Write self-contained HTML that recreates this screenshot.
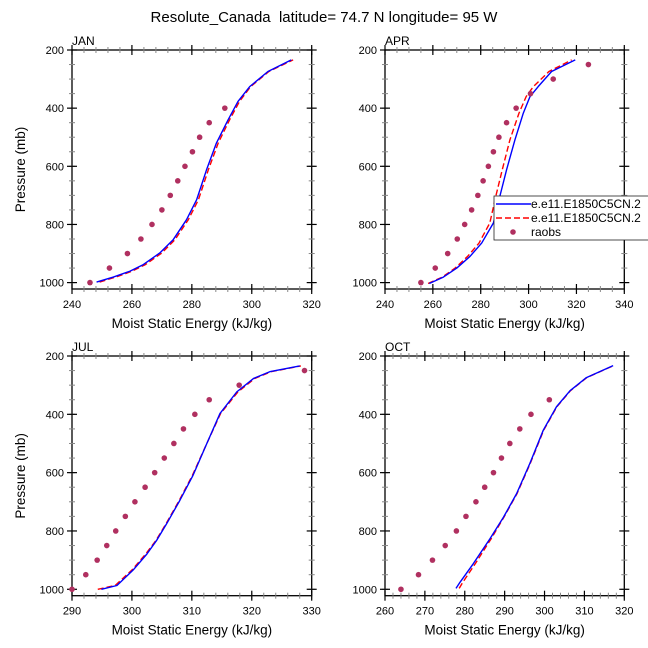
<!DOCTYPE html>
<html><head><meta charset="utf-8"><style>
body{margin:0;background:#fff}
svg{display:block;font-family:"Liberation Sans",Arial,sans-serif}
</style></head><body>
<svg id="c" width="648" height="648" viewBox="0 0 648 648">
<text x="324" y="22" text-anchor="middle" font-size="15">Resolute_Canada&#160; latitude= 74.7 N longitude= 95 W</text>
</svg>
<script>
// JAN
const janModelP=[998,981,961,938,898,852,784,715,612,520,440,377,326,274,234];
const janBlue=[248.2,253.8,259.3,263.8,269.3,273.8,278.2,281.6,284.9,288.2,292.1,295.4,299.3,305.4,313.2];
const janRed=[249.2,254.6,260.0,264.5,270.0,274.4,278.8,282.2,285.5,288.8,292.6,295.9,299.6,305.7,313.8];
const obsP=[1000,950,900,850,800,750,700,650,600,550,500,450,400,350,300,250];
const janObs=[246,252.5,258.5,263,266.7,270,272.8,275.3,277.7,280.2,282.6,285.8,291];
// APR
const aprModelP=[1003,981,950,910,864,795,703,612,509,417,360,326,274,234];
const aprBlue=[258.5,264.4,270,275.5,280.4,285.3,288,290.8,294.3,297.8,300.6,304,309.6,319.5];
const aprRed=[258,264,269.3,274.5,279.3,283.8,286.3,289,292.2,296,299,302,308.5,318];
const aprObs=[255,261,266.2,270.2,273.3,276.2,278.8,281,283.2,285.3,287.6,290.8,294.8,300.8,310.3,325];
// JUL
const julModelP=[1000,987,934,879,833,775,695,609,500,397,323,277,254,234];
const julBlue=[294.9,297.5,300.2,302.5,304.1,305.8,308,310.2,312.5,314.7,317.5,320.3,323,328];
const julRed=[294.3,297.2,300,302.3,304,305.7,307.9,310.1,312.5,314.8,317.7,320.5,323.2,328.2];
const julObs=[290,292.3,294.2,295.8,297.3,298.9,300.5,302.2,303.8,305.4,307,308.6,310.5,312.9,317.9,328.8];
// OCT
const octModelP=[997,976,913,827,753,672,569,454,374,319,274,233];
const octBlue=[277.8,278.8,282.1,286.3,289.7,293,296.3,299.7,303,306.4,310.5,317.2];
const octRed=[278.6,279.5,282.6,286.6,289.8,293.1,296.4,299.8,303.1,306.5,310.6,317.3];
const octObs=[264,268.4,271.9,275.1,277.9,280.3,282.8,285,287.2,289.2,291.3,293.8,296.6,301.2];
// axis ticks
const janTicks=[240,260,280,300,320];
const aprTicks=[240,260,280,300,320,340];
const julTicks=[290,300,310,320,330];
const octTicks=[260,270,280,290,300,310,320];
const pTicks=[200,400,600,800,1000];

const NS="http://www.w3.org/2000/svg";
const svg=document.getElementById('c');
function mk(tag,attrs,parent){const e=document.createElementNS(NS,tag);for(const k in attrs)e.setAttribute(k,attrs[k]);(parent||svg).appendChild(e);return e;}

function panel(o){
  const g=mk('g',{});
  
  
  const L=o.x0,R=o.x1,T=o.y0,B=o.yB;
  const pmin=200,pmax=1022;
  const sx=v=>L+(v-o.xmin)/(o.xmax-o.xmin)*(R-L);
  const sy=p=>T+(p-pmin)/(pmax-pmin)*(B-T);
  const frame=mk('rect',{x:L,y:T,width:R-L,height:B-T,fill:'none',stroke:'#000','stroke-width':1.3},g);
  
  
  const xmStep=o.minorX;
  for(let v=o.xmin;v<=o.xmax+1e-6;v+=xmStep){
    const x=sx(v);
    mk('line',{x1:x,x2:x,y1:B,y2:B+3,stroke:'#888'},g);mk('line',{x1:x,x2:x,y1:B,y2:B-3,stroke:'#888'},g);
    mk('line',{x1:x,x2:x,y1:T,y2:T-3,stroke:'#888'},g);mk('line',{x1:x,x2:x,y1:T,y2:T+3,stroke:'#888'},g);
  }
  for(let p=250;p<=1000;p+=50){
    const y=sy(p);
    mk('line',{x1:L-3,x2:L+3,y1:y,y2:y,stroke:'#888'},g);
    mk('line',{x1:R-3,x2:R+3,y1:y,y2:y,stroke:'#888'},g);
  }
  o.ticks.forEach(v=>{
    const x=sx(v);
    mk('line',{x1:x,x2:x,y1:B-5,y2:B+5,stroke:'#000','stroke-width':1.2},g);
    mk('line',{x1:x,x2:x,y1:T-5,y2:T+5,stroke:'#000','stroke-width':1.2},g);
    const t=mk('text',{x:x,y:B+19,'text-anchor':'middle','font-size':11},g);t.textContent=v;
    
    
  });
  pTicks.forEach(p=>{
    const y=sy(p);
    mk('line',{x1:L-5,x2:L+5,y1:y,y2:y,stroke:'#000','stroke-width':1.2},g);
    mk('line',{x1:R-5,x2:R+5,y1:y,y2:y,stroke:'#000','stroke-width':1.2},g);
    const t=mk('text',{x:L-8,y:y+4,'text-anchor':'end','font-size':11},g);t.textContent=p;
    
    
  });
  const lab=mk('text',{x:L,y:T-5,'font-size':12},g);lab.textContent=o.name.toUpperCase();
  
  
  const xt=mk('text',{x:(L+R)/2,y:B+39,'text-anchor':'middle','font-size':13.5},g);xt.textContent='Moist Static Energy (kJ/kg)';
  
  
  if(o.ytitle){
    const cy=(T+B)/2;
    const yt=mk('text',{x:25,y:cy,'text-anchor':'middle','font-size':13.5,transform:`rotate(-90 25 ${cy})`},g);yt.textContent='Pressure (mb)';
    
    
  }
  const red=mk('polyline',{points:o.red.map((v,i)=>sx(v)+','+sy(o.mp[i])).join(' '),fill:'none',stroke:'#f00','stroke-width':1.4,'stroke-dasharray':'6,3','stroke-linejoin':'round'},g);
  
  
  const blue=mk('polyline',{points:o.blue.map((v,i)=>sx(v)+','+sy(o.mp[i])).join(' '),fill:'none',stroke:'#00f','stroke-width':1.4,'stroke-linejoin':'round'},g);
  
  
  o.obs.forEach((v,i)=>{
    const c=mk('circle',{cx:sx(v),cy:sy(obsP[i]),r:2.8,fill:'#b03060'},g);
    
    
  });
}
panel({name:'jan',x0:72,x1:311.7,y0:50,yB:289,xmin:240,xmax:320,minorX:4,ticks:janTicks,ytitle:true,mp:janModelP,blue:janBlue,red:janRed,obs:janObs});
panel({name:'apr',x0:385,x1:624.3,y0:50,yB:289,xmin:240,xmax:340,minorX:5,ticks:aprTicks,ytitle:false,mp:aprModelP,blue:aprBlue,red:aprRed,obs:aprObs});
panel({name:'jul',x0:72,x1:311.7,y0:356,yB:595.7,xmin:290,xmax:330,minorX:2,ticks:julTicks,ytitle:true,mp:julModelP,blue:julBlue,red:julRed,obs:julObs});
panel({name:'oct',x0:385,x1:624.3,y0:356,yB:595.7,xmin:260,xmax:320,minorX:2,ticks:octTicks,ytitle:false,mp:octModelP,blue:octBlue,red:octRed,obs:octObs});

const lg=mk('g',{});


mk('rect',{x:494,y:196,width:160,height:44,fill:'#fff',stroke:'#222','stroke-width':0.8},lg);
mk('line',{x1:496,x2:531,y1:204,y2:204,stroke:'#00f','stroke-width':1.4},lg);
mk('line',{x1:496,x2:531,y1:218,y2:218,stroke:'#f00','stroke-width':1.4,'stroke-dasharray':'6,3'},lg);
mk('circle',{cx:513,cy:232,r:2.8,fill:'#b03060'},lg);
[['e.e11.E1850C5CN.2',208],['e.e11.E1850C5CN.2',222],['raobs',236]].forEach(([s,y])=>{
  const t=mk('text',{x:531,y:y,'font-size':12},lg);t.textContent=s;
  
  
});
</script>
</body></html>
